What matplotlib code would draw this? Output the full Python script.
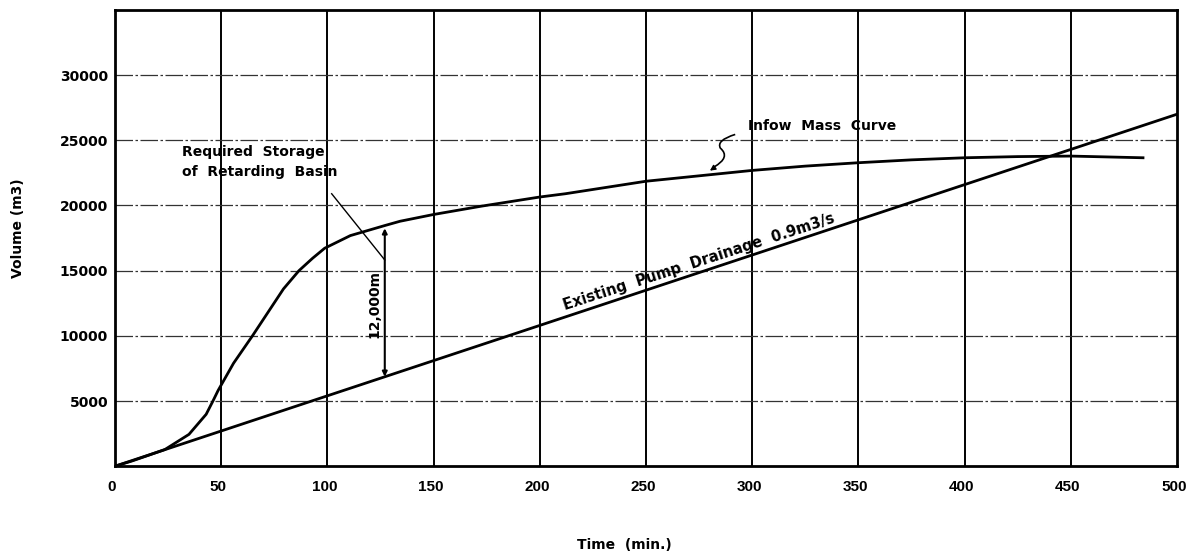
import numpy as np
import matplotlib.pyplot as plt
import matplotlib.transforms as mtransforms
from matplotlib.path import Path
from matplotlib.patches import PathPatch

plt.rcParams['font.family'] = ['DejaVu Sans']
plt.rcParams['font.weight'] = 'bold'

# inflow mass curve (time in min, volume in m3)
t_inflow = [0, 8, 16, 23.5, 34.8, 42.9, 46.1, 48.5, 55.8, 64.7, 72, 79.3, 86.6, 93, 98.7, 110.8,
            127, 134.2, 150, 172.6, 200, 212, 250, 300, 325, 350, 375, 400, 425, 450, 484]
v_inflow = [0, 400, 850, 1280, 2440, 3980, 5000, 5800, 7900, 10000, 11800, 13600, 15000, 15950, 16720, 17690,
            18460, 18790, 19310, 19950, 20650, 20900, 21860, 22690, 23020, 23280, 23500, 23660, 23750, 23790, 23660]

# existing pump drainage 0.9 m3/s = 54 m3/min
t_pump = [0, 500]
v_pump = [0, 27000]

x_ticks = list(range(0, 501, 50))
y_ticks = [5000, 10000, 15000, 20000, 25000, 30000]

fig = plt.figure(figsize=(11.86, 5.53), dpi=100)
ax = fig.add_axes([0.097, 0.157, 0.8954, 0.825])

ax.set_xlim(0, 500)
ax.set_ylim(0, 35000)
ax.set_xticks(x_ticks)
ax.set_yticks(y_ticks)
ax.set_xticklabels([str(v) for v in x_ticks], fontsize=11, fontweight='bold',
                   family=['Liberation Sans Narrow', 'Liberation Sans'])
ax.set_yticklabels([str(v) for v in y_ticks], fontsize=10, fontweight='bold')
ax.tick_params(axis='both', length=0)
ax.tick_params(axis='x', pad=10)
ax.tick_params(axis='y', pad=5)
shift = mtransforms.ScaledTranslation(-3 / 100, 0, fig.dpi_scale_trans)
for lab in ax.get_xticklabels():
    lab.set_transform(lab.get_transform() + shift)

# grid: solid verticals, dash-dot horizontals
for x in x_ticks[1:-1]:
    ax.axvline(x, color='black', lw=1.4, zorder=1)
for y in y_ticks:
    ax.axhline(y, color='#333333', lw=0.9, ls=(0, (14, 2, 2, 2)), zorder=1)

for s in ax.spines.values():
    s.set_linewidth(2)
    s.set_color('black')

ax.plot(t_inflow, v_inflow, color='black', lw=2, zorder=3)
ax.plot(t_pump, v_pump, color='black', lw=2, zorder=3)

# required storage marker
ax.annotate('', xy=(127, 18460), xytext=(127, 6650),
            arrowprops=dict(arrowstyle='<|-|>', color='black', lw=1.5, mutation_scale=7))
ax.text(122, 12460, '12,000m', rotation=90, ha='center', va='center', fontsize=10, fontweight='bold')

ax.text(31.5, 24650, 'Required  Storage\nof  Retarding  Basin', fontsize=10, fontweight='bold',
        ha='left', va='top', linespacing=1.55)
ax.plot([102, 127], [20900, 15820], color='black', lw=1)

ax.text(298, 26070, 'Infow  Mass  Curve', fontsize=10, fontweight='bold', ha='left', va='center')
squiggle = Path([(292, 25450), (283, 25000), (285, 24400), (290, 23700), (282, 22950)],
                [Path.MOVETO, Path.CURVE3, Path.CURVE3, Path.CURVE3, Path.CURVE3])
ax.add_patch(PathPatch(squiggle, fill=False, color='black', lw=1.2))
ax.annotate('', xy=(279, 22550), xytext=(283, 23000),
            arrowprops=dict(arrowstyle='-|>', color='black', lw=1, mutation_scale=8))

ax.text(275, 15650, 'Existing  Pump  Drainage  0.9m3/s', rotation=18, rotation_mode='anchor',
        ha='center', va='center', fontsize=10.5, fontweight='bold')

ax.set_xlabel('Time  (min.)', fontsize=10, fontweight='bold')
ax.xaxis.set_label_coords(0.48, -0.173)
ax.xaxis.label.set_va('center')
ax.set_ylabel('Volume (m3)', fontsize=10, fontweight='bold')
ax.yaxis.set_label_coords(-0.091, 0.522)
ax.yaxis.label.set_va('center')

plt.savefig('out.png', dpi=100)
